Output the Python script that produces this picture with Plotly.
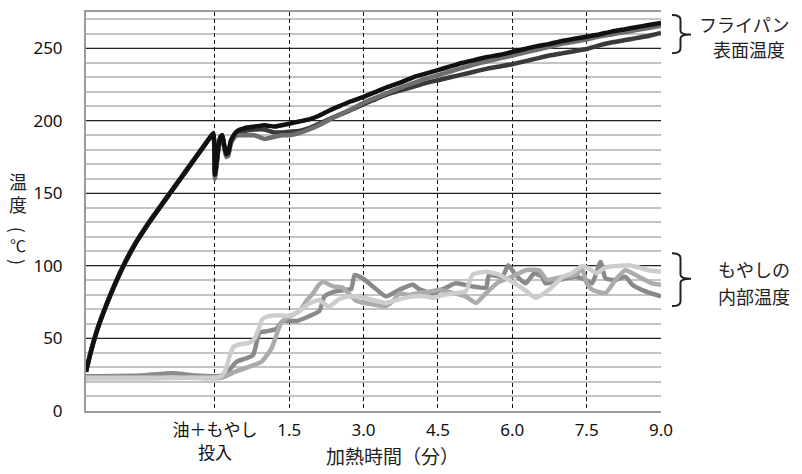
import plotly.graph_objects as go

# ---- data -------------------------------------------------------------
# time axis in minutes (0 = oil + bean sprouts added); negative = preheating
pan_time = [-2.6, -2.5, -2.4, -2.3, -2.2, -2.1, -2.0, -1.9, -1.8, -1.7, -1.6,
            -1.5, -1.4, -1.3, -1.2, -1.0, -0.8, -0.6, -0.4, -0.2, -0.03,
            0.0, 0.03, 0.07, 0.11, 0.15, 0.19, 0.23, 0.27, 0.32, 0.38, 0.45,
            0.6, 0.8, 1.0, 1.2, 1.35, 1.5, 1.7, 1.9, 2.1, 2.3, 2.5, 2.75, 3.0,
            3.25, 3.5, 3.75, 4.0, 4.25, 4.5, 4.75, 5.0, 5.25, 5.5, 5.75, 6.0,
            6.25, 6.5, 6.75, 7.0, 7.25, 7.5, 7.75, 8.0, 8.25, 8.5, 8.75, 9.0]

# frying-pan surface temperature (°C), three runs
pan_a = [27, 41, 53, 63, 72, 80.5, 88.5, 96, 103, 109.5, 115.5,
         121, 126.2, 131.2, 136, 145.5, 155, 164.5, 174, 183.5, 191.5,
         163, 170, 182, 189, 190, 183, 177, 178, 186, 190, 193,
         195, 196, 197, 196, 197, 198, 199.5, 201, 203.5, 207, 210, 213.5, 216.5,
         220, 223.5, 226.5, 230, 232.5, 235, 237.5, 240, 242, 244, 245.5, 247.5,
         249.5, 251.5, 253, 255, 256.5, 258, 259.5, 261.5, 263, 264.5, 266, 267.5]
pan_b = [27, 41, 53, 63, 72, 80.5, 88.5, 96, 103, 109.5, 115.5,
         121, 126.2, 131.2, 136, 145.5, 155, 164.5, 174, 183.5, 191,
         160, 168, 180, 187, 189, 181, 175, 176, 184, 188, 190,
         190, 190, 187.5, 189, 190, 190, 191.5, 194, 197, 200.5, 204, 208, 212.5,
         216, 219.5, 223, 226, 229, 231.5, 234, 236.5, 239, 241, 243, 245,
         247, 249, 251, 253, 254.5, 256, 258, 259.5, 261, 262.5, 264, 265.5]
pan_c = [27.5, 41.5, 53.5, 63.5, 72.5, 81, 89, 96.5, 103.5, 110, 116,
         121.5, 126.7, 131.7, 136.5, 146, 155.5, 165, 174.5, 184, 191,
         162, 169, 181, 188, 190, 182, 176, 177, 185, 189, 192,
         193, 194, 194, 192, 192, 192.5, 193, 195, 198, 201, 204, 207.5, 211.5,
         215, 218.5, 221, 223.5, 226, 228, 230, 232, 234, 236, 237.5, 239,
         241, 243, 245, 246.5, 248, 249.5, 252, 254, 255.5, 257, 258.5, 260.5]

# bean-sprout internal temperature (°C), three runs
sprout1_time = [-2.6, -1.5, -0.85, -0.4, 0.0, 0.2, 0.44, 0.6, 0.77, 0.9, 1.05, 1.24,
                1.37, 1.64, 1.91, 2.11, 2.21, 2.38, 2.65, 2.75, 2.82, 2.98, 3.19,
                3.45, 3.72, 3.99, 4.12, 4.39, 4.6, 4.86, 5.2, 5.47, 5.53, 5.8, 5.92,
                6.07, 6.27, 6.44, 6.6, 6.67, 6.94, 7.28, 7.48, 7.61, 7.78, 7.88,
                8.08, 8.28, 8.42, 8.69, 9.0]
sprout1 = [24, 24.5, 26, 24.5, 24, 25, 34, 36, 38.5, 54, 55, 56.5,
           62, 62, 65.5, 69, 79, 82, 83.6, 84, 93.7, 91.5, 85.8,
           79, 83.6, 87, 84, 81, 84, 88, 85.8, 85, 93.7, 92.6, 100.5,
           93.7, 88, 94.8, 92.6, 88, 90.3, 92.6, 90.3, 88, 102.7, 91.4,
           90.3, 92.6, 87, 82.4, 79]

sprout2_time = [-2.6, -1.5, -0.5, 0.0, 0.15, 0.4, 0.7, 0.94, 1.14, 1.34, 1.47, 1.71,
                1.85, 1.98, 2.1, 2.18, 2.38, 2.58, 2.85, 3.19, 3.45, 3.6, 3.72, 3.9,
                4.12, 4.3, 4.53, 4.8, 5.06, 5.27, 5.47, 5.73, 6.0, 6.27, 6.54, 6.7,
                6.87, 7.08, 7.28, 7.41, 7.5, 7.61, 7.88, 8.08, 8.28, 8.55, 8.82, 9.0]
sprout2 = [22.5, 22.5, 23, 22.5, 23, 27, 30.6, 34, 43, 61, 64.4, 69,
           76, 81, 87, 89, 86, 85, 76, 73.4, 72.3, 76, 81, 80,
           81.3, 82, 83.6, 81.3, 79, 74.5, 81.3, 89, 92.6, 97, 97, 90.3,
           91.4, 92.6, 93.7, 98, 88, 83.6, 81.3, 90.3, 97, 92.6, 88, 87]

sprout3_time = [-2.6, -1.5, -0.5, 0.1, 0.2, 0.3, 0.37, 0.5, 0.7, 0.8, 0.9, 0.95,
                1.05, 1.25, 1.47, 1.6, 1.75, 1.9, 2.1, 2.3, 2.5, 2.7, 3.0, 3.25,
                3.45, 3.72, 4.0, 4.26, 4.4, 4.6, 4.8, 5.06, 5.2, 5.47, 5.73, 6.0,
                6.27, 6.47, 6.74, 7.0, 7.2, 7.41, 7.55, 7.7, 7.88, 8.15, 8.35,
                8.55, 8.75, 9.0]
sprout3 = [23, 23, 23, 23.5, 27, 38, 44, 46, 47, 50, 58, 63,
           65, 66, 65.5, 67, 70, 74, 76.5, 72, 77, 79, 78, 76,
           74.5, 77, 79, 79, 78, 80, 81, 82.5, 94, 96, 94, 89,
           83, 78, 83.6, 92, 95, 100, 98, 95, 99, 100, 100.5,
           99, 97, 96]

x_tick_vals = [0, 1.5, 3.0, 4.5, 6.0, 7.5, 9.0]
x_tick_text = ["油＋もやし<br>投入", "1.5", "3.0", "4.5", "6.0", "7.5", "9.0"]
y_tick_vals = [0, 50, 100, 150, 200, 250]

# ---- figure -----------------------------------------------------------
W, H = 802, 474
L, R, T, B = 86, 141, 10, 57
PW, PH = W - L - R, H - T - B

fig = go.Figure()

sprout_series = [
    (sprout1_time, sprout1, "#8a8a8a"),
    (sprout2_time, sprout2, "#ababab"),
    (sprout3_time, sprout3, "#cdcdcd"),
]
for t, v, c in sprout_series:
    fig.add_trace(go.Scatter(x=t, y=v, mode="lines",
                             line=dict(color=c, width=4.5, shape="spline", smoothing=0.5),
                             showlegend=False))

for v, c in [(pan_c, "#3a3a3a"), (pan_b, "#6e6e6e"), (pan_a, "#111111")]:
    fig.add_trace(go.Scatter(x=pan_time, y=v, mode="lines",
                             line=dict(color=c, width=4.5, shape="spline", smoothing=0.4),
                             showlegend=False))

num_font = dict(family="Noto Sans, Open Sans, sans-serif", size=17, color="#111")
jp_font = "Noto Sans CJK JP"

fig.update_layout(
    width=W, height=H,
    margin=dict(l=L, r=R, t=T, b=B, pad=0),
    paper_bgcolor="white", plot_bgcolor="white",
    showlegend=False,
    xaxis=dict(
        range=[-2.6, 9.0], tickmode="array",
        tickvals=x_tick_vals, ticktext=x_tick_text,
        tickfont=dict(family=f"Noto Sans, {jp_font}", size=17, color="#111"),
        showgrid=True, gridcolor="#111", gridwidth=1.4, griddash="4px,3px",
        zeroline=False, ticks="", ticklabelstandoff=3,
        showline=True, linecolor="#9a9a9a", linewidth=2, mirror=True,
    ),
    yaxis=dict(
        range=[0, 275], tickmode="array", tickvals=y_tick_vals,
        tickfont=num_font,
        showgrid=True, gridcolor="#222", gridwidth=1.3,
        minor=dict(dtick=10, tick0=0, showgrid=True, gridcolor="#c4c4c4", gridwidth=2),
        zeroline=False, ticks="", ticklabelstandoff=18,
        showline=True, linecolor="#9a9a9a", linewidth=2,
    ),
)


def px_x(x):
    return (x - L) / PW


def px_y(y):
    return (H - B - y) / PH


annotations = []


def add_text(text, x, y, size=18, family=jp_font, angle=0):
    annotations.append(dict(text=text, x=px_x(x), y=px_y(y), xref="paper", yref="paper",
                            showarrow=False, xanchor="center", yanchor="middle",
                            textangle=angle, borderpad=0,
                            font=dict(family=family, size=size, color="#222")))


# axis titles
add_text("加熱時間（分）", 392, 462, size=19)
# vertical y title: upright kanji, parentheses turned sideways
add_text("温<br>度", 18, 194, size=18)
add_text("(", 18, 232, size=18, angle=90)
add_text("℃", 18, 248, size=16)
add_text(")", 18, 265, size=18, angle=90)

# group labels
add_text("フライパン", 744, 22, size=18)
add_text("表面温度", 749, 48, size=18)
add_text("もやしの", 754, 272, size=18)
add_text("内部温度", 754, 300, size=18)

fig.update_layout(annotations=annotations)


def brace_path(x0, x1, ytop, ybot, ytip):
    """Right-facing curly brace; pixel inputs, paper-space path."""
    xm = (x0 + x1) / 2 - 1
    pts = [
        ("M", x0, ytop),
        ("Q", xm, ytop, xm, ytop + 5),
        ("L", xm, ytip - 4),
        ("Q", xm, ytip, x1, ytip),
        ("Q", xm, ytip, xm, ytip + 4),
        ("L", xm, ybot - 5),
        ("Q", xm, ybot, x0, ybot),
    ]
    parts = []
    for p in pts:
        cmd = p[0]
        coords = p[1:]
        s = []
        for i in range(0, len(coords), 2):
            s.append(f"{px_x(coords[i]):.5f},{px_y(coords[i + 1]):.5f}")
        parts.append(cmd + " " + " ".join(s))
    return " ".join(parts)


for (yt, yb, ytip) in [(13, 52, 33), (256, 310, 282)]:
    fig.add_shape(type="path", xref="paper", yref="paper",
                  path=brace_path(672, 691, yt, yb, ytip),
                  line=dict(color="#222", width=2))

fig.write_html("out.html")
